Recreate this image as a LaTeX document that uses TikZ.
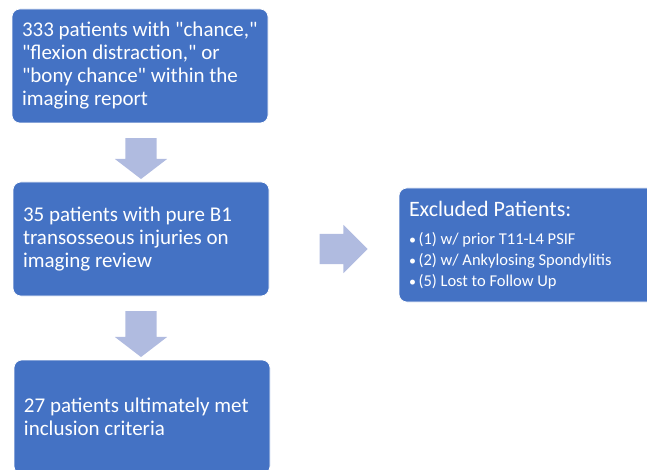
\documentclass[tikz,border=0pt]{standalone}
\usepackage{fontspec}
\setmainfont{Carlito}
\usetikzlibrary{positioning,shapes.arrows}
\definecolor{boxblue}{RGB}{68,114,196}
\definecolor{arrowblue}{RGB}{176,187,224}

\begin{document}
\begin{tikzpicture}[x=1pt,y=1pt,
	box/.style={rectangle,rounded corners=8pt,fill=boxblue,
		draw=white,line width=0.6pt,text=white,
		minimum width=256pt,minimum height=114pt,inner sep=0pt,
		text width=246pt,align=left,
		execute at begin node={\spaceskip=0pt\xspaceskip=0pt\leftskip=5pt},
		font=\fontsize{21}{23}\selectfont},
	blockarrow/.style={single arrow,fill=arrowblue,draw=none,
		inner xsep=0pt,inner ysep=15.5pt,minimum width=52pt,
		single arrow head extend=10.5pt,single arrow tip angle=105}]
	\useasboundingbox (0,0) rectangle (647,469);
	\clip (0,0) rectangle (647,469);

	\node[box] (B1) at (140,403)
		{333 patients with \textquotedbl chance,\textquotedbl\\
		 \textquotedbl flexion distraction,\textquotedbl{} or\\
		 \textquotedbl bony chance\textquotedbl{} within the\\
		 imaging report};
	\node[box] (B2) at (141,230)
		{35 patients with pure B1\\
		 transosseous injuries on\\
		 imaging review};
	\node[box] (B3) at (142,52)
		{27 patients ultimately met\\
		 inclusion criteria};
	\node[box] (EX) at (527,224)
		{{\fontsize{22}{23}\selectfont Excluded Patients:\par}
		 \vspace{7pt}
		 {\fontsize{16.5}{21}\selectfont
		 \makebox[9.5pt][l]{\fontsize{14}{14}\selectfont•}(1) w/ prior T11-L4 PSIF\par
		 \makebox[9.5pt][l]{\fontsize{14}{14}\selectfont•}(2) w/ Ankylosing Spondylitis\par
		 \makebox[9.5pt][l]{\fontsize{14}{14}\selectfont•}(5) Lost to Follow Up\par}};

	\node[blockarrow,rotate=-90,minimum height=41pt]
		(A1) at (141,316.5) {};
	\node[blockarrow,rotate=-90,minimum height=46pt]
		(A2) at (141,141) {};
	\node[blockarrow,inner ysep=15pt,minimum width=48pt,
		  single arrow head extend=9pt,single arrow tip angle=90,
		  minimum height=48pt] (A3) at (336,220) {};
\end{tikzpicture}
\end{document}
